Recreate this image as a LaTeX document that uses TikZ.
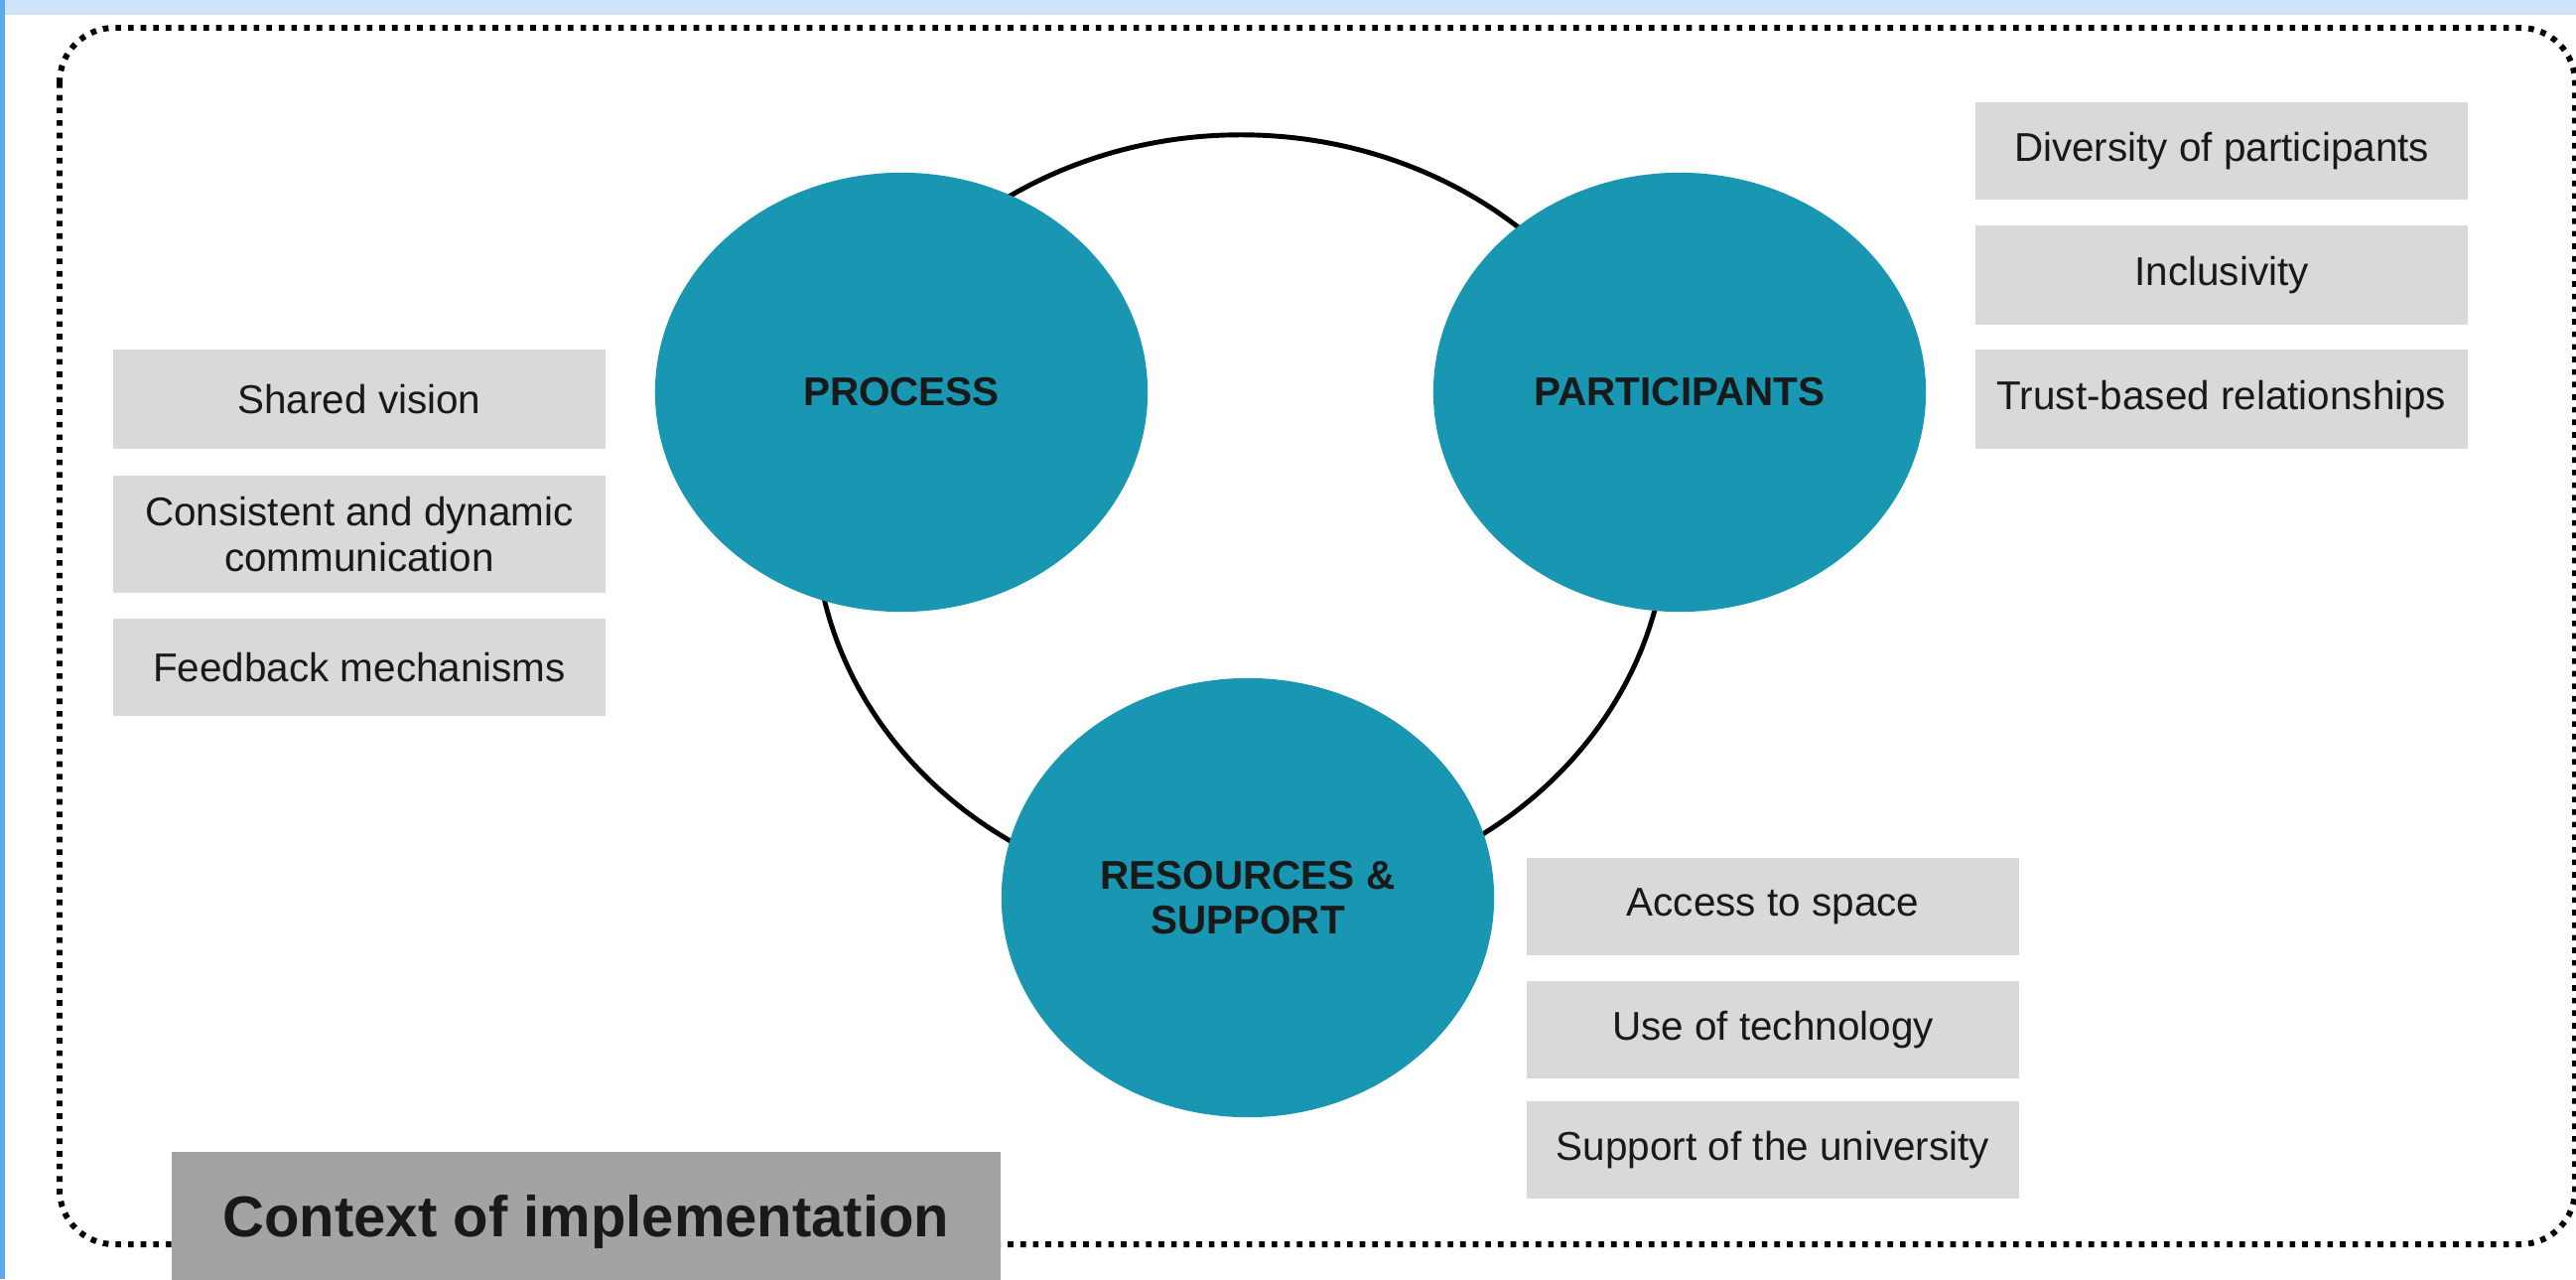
\documentclass[tikz,border=0pt]{standalone}
\usepackage{fontspec}
\setmainfont{Liberation Sans}
\usetikzlibrary{shapes.geometric}

\definecolor{hubfill}{RGB}{24,150,178}
\definecolor{boxgray}{RGB}{217,217,217}
\definecolor{ctxgray}{RGB}{163,163,163}
\definecolor{bandblue}{RGB}{205,227,248}
\definecolor{edgeblue}{RGB}{90,170,240}
\definecolor{inkblack}{RGB}{25,25,25}

\tikzset{
  hub/.style={ellipse, fill=hubfill, draw=none, inner sep=0pt,
    minimum width=4.96cm, minimum height=4.42cm, align=center,
    font=\fontsize{11.5}{13}\selectfont\bfseries, text=inkblack},
  itembox/.style={rectangle, fill=boxgray, draw=none, inner sep=0pt,
    minimum width=4.96cm, minimum height=0.98cm, align=center,
    font=\fontsize{11.5}{13}\selectfont, text=inkblack},
  ctxbox/.style={rectangle, fill=ctxgray, draw=none, inner sep=0pt,
    minimum width=8.35cm, minimum height=1.41cm, align=center,
    font=\fontsize{16.5}{19}\selectfont\bfseries, text=inkblack},
  ring/.style={draw=black, line width=1.4pt},
  framedots/.style={draw=black, line width=1.7pt,
    dash pattern=on 1.6pt off 2.0pt, rounded corners=0.55cm}
}

\begin{document}
\begin{tikzpicture}[x=0.01cm, y=-0.01cm]
  \useasboundingbox (0,0) rectangle (2595,1288);
  \fill[white] (0,0) rectangle (2595,1288);

  % page edge bands
  \fill[bandblue] (5,0) rectangle (2595,15);
  \fill[edgeblue] (0,0) rectangle (5,1288);

  % dotted outline of the implementation context
  \draw[framedots] (60,28) rectangle (2594,1253);

  % ring linking the three dimensions
  \coordinate (ringc) at (1250,522);
  \draw[ring] (ringc) ellipse [x radius=4.29cm, y radius=3.86cm];

  % the three dimensions
  \node[hub] (process) at (908,395) {PROCESS};
  \node[hub] (participants) at (1692,395) {PARTICIPANTS};
  \node[hub] (resources) at (1257,904) {RESOURCES \&\\SUPPORT};

  % process factors
  \node[itembox, minimum height=0.99cm] (vision) at (362,402) {Shared vision};
  \node[itembox, minimum height=1.17cm] (comm) at (362,538) {Consistent and dynamic\\communication};
  \node[itembox] (feedback) at (362,672) {Feedback mechanisms};

  % participant factors
  \node[itembox] (diversity) at (2238,152) {Diversity of participants};
  \node[itembox, minimum height=1.0cm] (inclusivity) at (2238,277) {Inclusivity};
  \node[itembox, minimum height=0.99cm] (trust) at (2238,402) {Trust-based relationships};

  % resource factors
  \node[itembox] (space) at (1786,913) {Access to space};
  \node[itembox] (tech) at (1786,1037) {Use of technology};
  \node[itembox] (univ) at (1786,1158) {Support of the university};

  % context label
  \node[ctxbox, anchor=north west] (context) at (172,1159) {Context of implementation};
\end{tikzpicture}
\end{document}
